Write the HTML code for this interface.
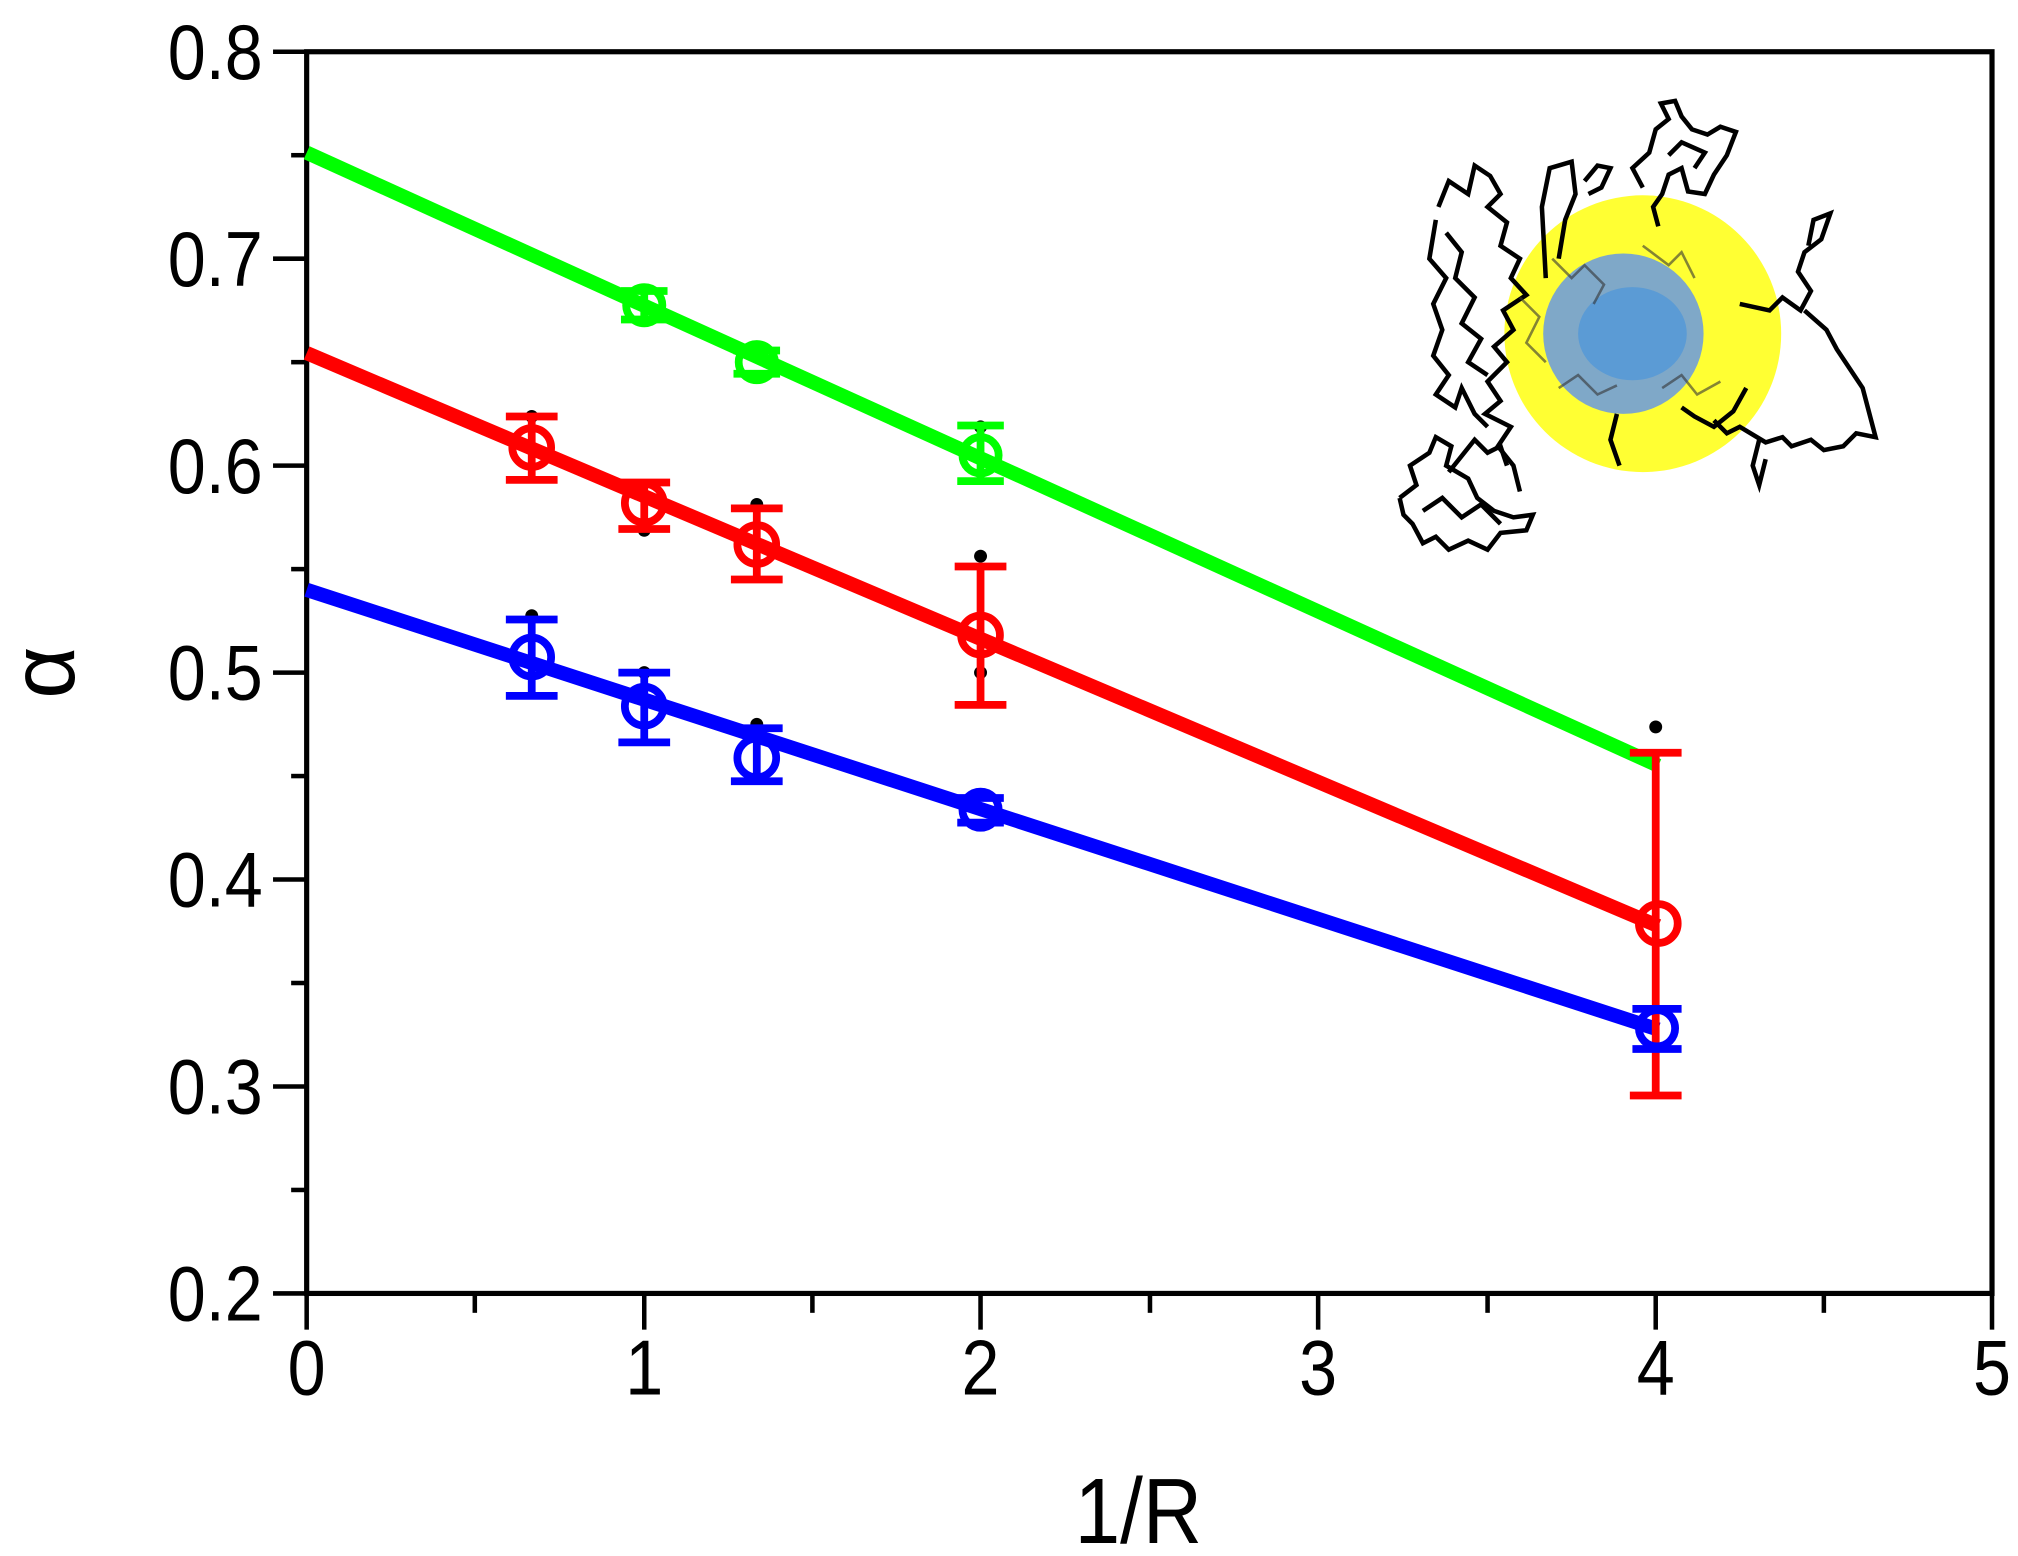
<!DOCTYPE html>
<html><head><style>
html,body{margin:0;padding:0;background:#fff;}
svg{display:block;}
text{font-family:"Liberation Sans",Arial,sans-serif;fill:#000;}
</style></head><body>
<svg width="2018" height="1556" viewBox="0 0 1560 1203" xmlns="http://www.w3.org/2000/svg">
<rect width="1560" height="1203" fill="#fff"/>
<g>
<circle cx="1270" cy="258" r="107" fill="#ffff33"/>
<circle cx="1255" cy="258" r="62" fill="#7fa8c8"/>
<ellipse cx="1262" cy="258" rx="42" ry="36" fill="#5b9bd5"/>
<g fill="none" stroke="#000" stroke-width="3.5">
<polyline points="1112,160 1120,140 1135,150 1140,128 1152,136 1160,150 1150,160 1165,172 1160,190 1175,200 1168,215 1180,228 1162,240 1170,255 1155,268 1165,280 1150,295 1160,310 1148,320 1168,330 1158,345 1170,360 1175,380"/>
<polyline points="1110,170 1105,200 1118,215 1108,235 1115,255 1108,275 1120,290 1110,305 1125,315 1130,300 1140,320 1150,330"/>
<polyline points="1118,180 1130,195 1125,215 1140,230 1130,250 1145,262 1135,280 1150,290"/>
<polyline points="1082,385 1095,375 1090,360 1105,350 1110,338 1122,345 1118,360 1135,370 1142,385 1155,395 1170,400 1185,398 1180,410 1160,412 1150,425 1135,418 1120,425 1110,415 1100,420 1092,405 1085,398 1082,385"/>
<polyline points="1120,365 1140,340 1150,350 1160,345 1165,360"/>
<polyline points="1100,395 1115,385 1130,400 1145,390 1160,405"/>
<polyline points="1195,215 1192,160 1198,130 1215,125 1218,150 1210,170 1205,200"/>
<polyline points="1225,140 1235,128 1245,130 1238,145 1228,150"/>
<polyline points="1270,145 1262,130 1275,118 1280,100 1290,92 1284,80 1295,78 1300,90 1308,100 1320,104 1330,98 1342,102 1335,120 1325,135 1318,150 1305,148 1300,130 1290,135 1285,150 1278,160 1282,175"/>
<polyline points="1290,120 1300,110 1318,118 1310,130"/>
<polyline points="1345,235 1368,240 1378,230 1392,240 1400,225 1390,210 1395,195 1408,185 1415,165 1402,170 1398,190"/>
<polyline points="1395,240 1412,255 1420,270 1430,285 1440,300 1450,338 1435,335 1425,345 1410,348 1400,340 1385,345 1378,338 1365,342 1345,330 1335,335 1325,325"/>
<polyline points="1360,340 1355,360 1360,375 1365,355"/>
<polyline points="1350,300 1340,318 1325,330 1310,322 1300,315"/>
<polyline points="1250,320 1245,340 1252,360"/>
</g>
<g fill="none" stroke="#333" stroke-width="2" opacity="0.6">
<polyline points="1200,200 1215,215 1225,205 1240,220 1232,235"/>
<polyline points="1270,190 1290,205 1300,195 1310,215"/>
<polyline points="1205,300 1220,290 1235,305 1250,298"/>
<polyline points="1285,300 1300,290 1312,305 1330,295"/>
<polyline points="1175,230 1190,245 1180,265 1195,280"/>
</g>
</g>
<rect x="237" y="40" width="1303" height="960" fill="none" stroke="#000" stroke-width="4"/>
<g stroke="#000" stroke-width="3.5">
<line x1="237" y1="1000" x2="237" y2="1028"/><line x1="498" y1="1000" x2="498" y2="1028"/><line x1="758" y1="1000" x2="758" y2="1028"/><line x1="1019" y1="1000" x2="1019" y2="1028"/><line x1="1280" y1="1000" x2="1280" y2="1028"/><line x1="1540" y1="1000" x2="1540" y2="1028"/>
<line x1="367" y1="1000" x2="367" y2="1015"/><line x1="628" y1="1000" x2="628" y2="1015"/><line x1="889" y1="1000" x2="889" y2="1015"/><line x1="1150" y1="1000" x2="1150" y2="1015"/><line x1="1410" y1="1000" x2="1410" y2="1015"/>
<line x1="211" y1="40" x2="237" y2="40"/><line x1="211" y1="200" x2="237" y2="200"/><line x1="211" y1="360" x2="237" y2="360"/><line x1="211" y1="520" x2="237" y2="520"/><line x1="211" y1="680" x2="237" y2="680"/><line x1="211" y1="840" x2="237" y2="840"/><line x1="211" y1="1000" x2="237" y2="1000"/>
<line x1="225" y1="120" x2="237" y2="120"/><line x1="225" y1="280" x2="237" y2="280"/><line x1="225" y1="440" x2="237" y2="440"/><line x1="225" y1="600" x2="237" y2="600"/><line x1="225" y1="760" x2="237" y2="760"/><line x1="225" y1="920" x2="237" y2="920"/>
</g>
<g font-size="60" text-anchor="end">
<text transform="translate(203,61) scale(0.88,1)">0.8</text>
<text transform="translate(203,221) scale(0.88,1)">0.7</text>
<text transform="translate(203,381) scale(0.88,1)">0.6</text>
<text transform="translate(203,541) scale(0.88,1)">0.5</text>
<text transform="translate(203,701) scale(0.88,1)">0.4</text>
<text transform="translate(203,861) scale(0.88,1)">0.3</text>
<text transform="translate(203,1021) scale(0.88,1)">0.2</text>
</g>
<g font-size="60" text-anchor="middle">
<text transform="translate(237,1078) scale(0.88,1)">0</text>
<text transform="translate(498,1078) scale(0.88,1)">1</text>
<text transform="translate(758,1078) scale(0.88,1)">2</text>
<text transform="translate(1019,1078) scale(0.88,1)">3</text>
<text transform="translate(1280,1078) scale(0.88,1)">4</text>
<text transform="translate(1540,1078) scale(0.88,1)">5</text>
<text transform="translate(880,1193) scale(0.88,1)" font-size="72">1/R</text>
</g>
<text transform="translate(57,520) rotate(-90)" font-size="70" text-anchor="middle" font-family="Liberation Serif, serif">α</text>
<g fill="#000">
<circle cx="411" cy="476" r="5"/><circle cx="411" cy="322" r="5"/><circle cx="498" cy="520" r="5"/><circle cx="498" cy="410" r="5"/>
<circle cx="585" cy="560" r="5"/><circle cx="585" cy="390" r="5"/><circle cx="758" cy="430" r="5"/><circle cx="758" cy="520" r="5"/><circle cx="758" cy="330" r="5"/><circle cx="1280" cy="562" r="5"/>
</g>
<line x1="237" y1="118" x2="1282" y2="592" stroke="#00ff00" stroke-width="11"/>
<line x1="237" y1="273" x2="1282" y2="716" stroke="#ff0000" stroke-width="11"/>
<line x1="237" y1="456" x2="1282" y2="796" stroke="#0000ff" stroke-width="11"/>
<g stroke="#00ff00" stroke-width="6" fill="none">
<path d="M480,225 H516 M480,247 H516 M498,225 V247"/><circle cx="498" cy="236" r="14"/>
<path d="M567,271 H603 M567,289 H603"/><circle cx="585" cy="280" r="14"/>
<path d="M740,329 H776 M740,372 H776 M758,329 V372"/><circle cx="758" cy="352" r="14"/>
</g>
<g stroke="#ff0000" stroke-width="6" fill="none">
<path d="M391,322 H431 M391,371 H431 M411,322 V371"/><circle cx="411" cy="346" r="15"/>
<path d="M478,373 H518 M478,409 H518 M498,373 V409"/><circle cx="498" cy="389" r="15"/>
<path d="M565,393 H605 M565,448 H605 M585,393 V448"/><circle cx="585" cy="421" r="15"/>
<path d="M738,438 H778 M738,545 H778 M758,438 V545"/><circle cx="758" cy="491" r="15"/>
<path d="M1260,582 H1300 M1260,847 H1300 M1280,582 V847"/><circle cx="1282" cy="714" r="15"/>
</g>
<g stroke="#0000ff" stroke-width="6" fill="none">
<path d="M391,479 H431 M391,538 H431 M411,479 V538"/><circle cx="411" cy="508" r="15"/>
<path d="M478,520 H518 M478,574 H518 M498,520 V574"/><circle cx="498" cy="546" r="15"/>
<path d="M565,563 H605 M565,604 H605 M585,563 V604"/><circle cx="585" cy="586" r="15"/>
<path d="M740,617 H776 M740,636 H776"/><circle cx="758" cy="626" r="14"/>
<path d="M1262,780 H1300 M1262,811 H1300"/><circle cx="1281" cy="795" r="14"/>
</g>
</svg>
</body></html>
